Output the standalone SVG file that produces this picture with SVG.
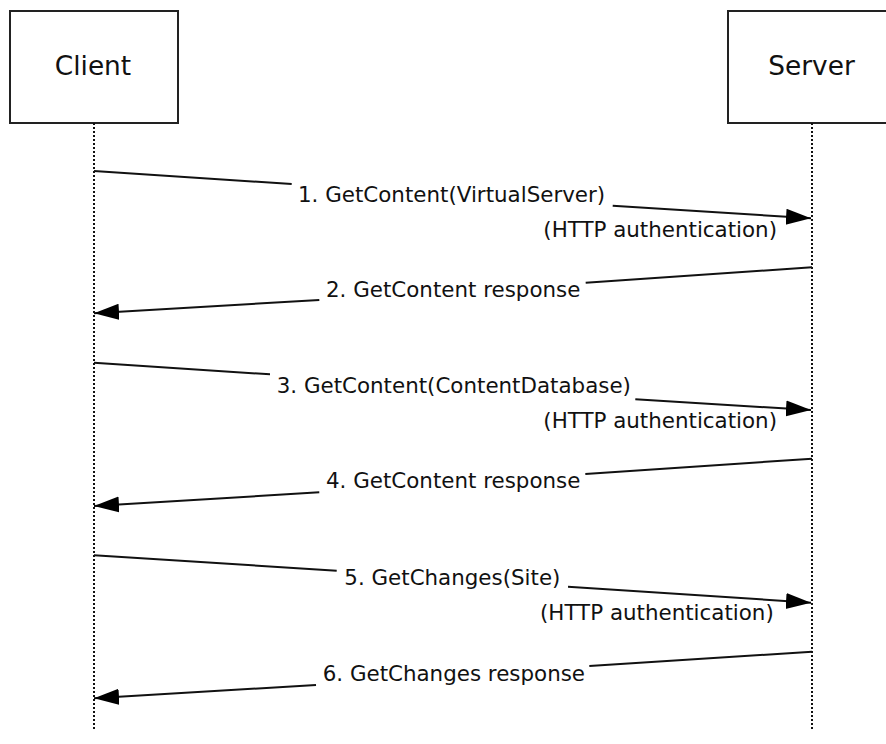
<svg xmlns="http://www.w3.org/2000/svg" width="886" height="744" viewBox="0 0 886 744">
<style>
  .box{fill:#fff;stroke:#222;stroke-width:2}
  .title{font-family:"DejaVu Sans","Verdana",sans-serif;font-size:26.4px;fill:#111;text-anchor:middle}
  .life{stroke:#111;stroke-width:2;stroke-dasharray:2 2;fill:none}
  .msg{stroke:#111;stroke-width:2;fill:none}
  .lbl{font-family:"DejaVu Sans","Verdana",sans-serif;font-size:21.4px;fill:#111}
</style>
<defs>
  <marker id="arr" markerUnits="userSpaceOnUse" markerWidth="26" markerHeight="18" refX="25" refY="8" orient="auto" viewBox="0 0 26 16">
    <path d="M0,0 L25,8 L0,16 Z" fill="#000"/>
  </marker>
</defs>
<rect width="886" height="744" fill="#fff"/>
<g id="client">
  <rect class="box" x="10" y="11" width="168" height="112"/>
  <text class="title" x="93" y="75">Client</text>
  <line class="life" x1="94" y1="123" x2="94" y2="730"/>
</g>
<g id="server">
  <rect class="box" x="728" y="11" width="168" height="112"/>
  <text class="title" x="811.5" y="75">Server</text>
  <line class="life" x1="812" y1="123" x2="812" y2="730"/>
</g>
<g id="connectors">
  <line class="msg" x1="94" y1="171" x2="291.7" y2="184"/>
  <line class="msg" x1="612.7" y1="205.7" x2="811" y2="218.3" marker-end="url(#arr)"/>
  <line class="msg" x1="812" y1="267.3" x2="585.7" y2="282.7"/>
  <line class="msg" x1="319.3" y1="300" x2="94" y2="313.3" marker-end="url(#arr)"/>
  <line class="msg" x1="94" y1="362.7" x2="270" y2="374.3"/>
  <line class="msg" x1="635.3" y1="399.3" x2="811" y2="410" marker-end="url(#arr)"/>
  <line class="msg" x1="812" y1="458.7" x2="585.3" y2="474"/>
  <line class="msg" x1="319.3" y1="492.3" x2="94" y2="506" marker-end="url(#arr)"/>
  <line class="msg" x1="94" y1="555.3" x2="336.7" y2="570.7"/>
  <line class="msg" x1="568" y1="586.7" x2="811" y2="602.7" marker-end="url(#arr)"/>
  <line class="msg" x1="812" y1="651.7" x2="589.3" y2="666"/>
  <line class="msg" x1="316" y1="685" x2="94" y2="698.3" marker-end="url(#arr)"/>
</g>
<g id="labels">
  <text class="lbl" x="298" y="201.5">1. GetContent(VirtualServer)</text>
  <text class="lbl" x="543.3" y="237">(HTTP authentication)</text>
  <text class="lbl" x="326" y="297">2. GetContent response</text>
  <text class="lbl" x="276.7" y="392.7">3. GetContent(ContentDatabase)</text>
  <text class="lbl" x="543.3" y="427.7">(HTTP authentication)</text>
  <text class="lbl" x="326" y="488.3">4. GetContent response</text>
  <text class="lbl" x="344.3" y="585">5. GetChanges(Site)</text>
  <text class="lbl" x="540" y="620">(HTTP authentication)</text>
  <text class="lbl" x="322.7" y="680.7">6. GetChanges response</text>
</g>
</svg>
